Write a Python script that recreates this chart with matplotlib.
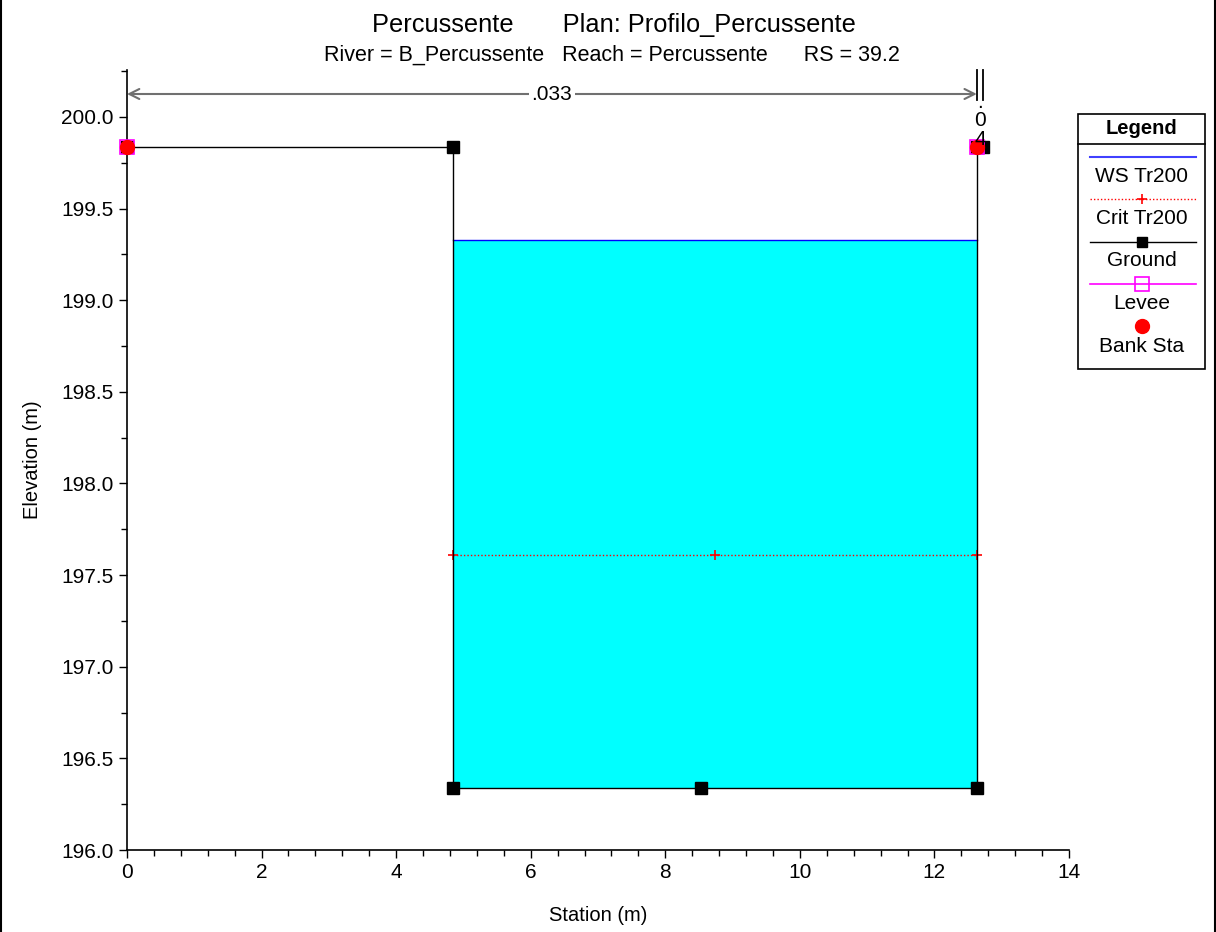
import matplotlib
matplotlib.use("Agg")
import matplotlib.pyplot as plt
from matplotlib.lines import Line2D
from matplotlib.ticker import MultipleLocator, FormatStrFormatter

plt.rcParams['font.family'] = ['Liberation Sans', 'DejaVu Sans']

# ---- data ----
ground_x = [0.0, 4.85, 4.85, 8.53, 12.63, 12.63, 12.72]
ground_y = [199.835, 199.835, 196.34, 196.34, 196.34, 199.835, 199.835]
ws_elev = 199.33
ws_x = [4.85, 12.63]
crit_elev = 197.61
crit_x = [4.85, 8.74, 12.63]
bank_x = [0.0, 12.63]
bank_y = [199.835, 199.835]
levee_x = [0.0, 12.63]
levee_y = [199.835, 199.835]
n_bounds = [0.0, 12.63, 12.72]
n_values = [".033", ".04"]
legend_labels = ["WS Tr200", "Crit Tr200", "Ground", "Levee", "Bank Sta"]

title = "Percussente       Plan: Profilo_Percussente"
subtitle = "River = B_Percussente   Reach = Percussente      RS = 39.2"

fig = plt.figure(figsize=(12.16, 9.32), dpi=100)
ax = fig.add_axes([127/1216, 1-850/932, (1069-127)/1216, (850-70)/932])
ax.set_xlim(0, 14)
ax.set_ylim(196.0, 200.256)

# water fill
ax.fill_between(ws_x, [ground_y[2], ground_y[4]], [ws_elev, ws_elev], color='#00ffff', lw=0, zorder=1)
ax.plot(ws_x, [ws_elev, ws_elev], color='#0000ff', lw=1.0, zorder=2)
# crit
ax.plot(crit_x, [crit_elev]*len(crit_x), color='red', lw=1.0, ls=(0, (1, 1.5)), marker='+',
        ms=7, mew=1.2, zorder=3, clip_on=False)
# ground
ax.plot(ground_x, ground_y, color='black', lw=1.0, marker='s', ms=8, zorder=4, clip_on=False)
# levee
ax.plot(levee_x, levee_y, ls='none', marker='s', ms=10.5, mfc='none', mec='magenta', mew=1.2,
        zorder=5, clip_on=False)
# bank
ax.plot(bank_x, bank_y, ls='none', marker='o', ms=10, color='red', zorder=6, clip_on=False)

# Manning n annotations
yarr = 1 - (94 - 70) / 780
trans = ax.get_xaxis_transform()
for i, nv in enumerate(n_values):
    x0, x1 = n_bounds[i], n_bounds[i + 1]
    if x1 - x0 > 1:
        ax.annotate('', xy=(x0, yarr), xytext=(x1, yarr), xycoords=trans, textcoords=trans,
                    arrowprops=dict(arrowstyle='<->', color='#707070', lw=1.5,
                                    mutation_scale=18, shrinkA=0, shrinkB=0),
                    annotation_clip=False)
        ax.text((x0 + x1) / 2, yarr, nv, transform=trans, ha='center', va='center',
                fontsize=15, bbox=dict(facecolor='white', edgecolor='none', pad=2), zorder=7)
    else:
        ax.text((x0 + x1) / 2, yarr + 0.001, "\n".join(list(nv)), transform=trans, ha='center',
                va='top', fontsize=15, linespacing=0.95, zorder=7)
for xb in n_bounds[1:]:
    ax.plot([xb, xb], [1.0, 1 - (100 - 70) / 780], transform=trans, color='black', lw=1.3,
            clip_on=False)

# axes styling
for s in ['top', 'right']:
    ax.spines[s].set_visible(False)
ax.spines['left'].set_linewidth(1.2)
ax.spines['bottom'].set_linewidth(1.2)
ax.xaxis.set_major_locator(MultipleLocator(2))
ax.xaxis.set_minor_locator(MultipleLocator(0.4))
ax.yaxis.set_major_locator(MultipleLocator(0.5))
ax.yaxis.set_minor_locator(MultipleLocator(0.25))
ax.yaxis.set_major_formatter(FormatStrFormatter('%.1f'))
ax.tick_params(axis='both', which='major', length=6, width=1, labelsize=15, direction='out')
ax.tick_params(axis='both', which='minor', length=4, width=1, direction='out')
ax.set_xlabel('Station (m)', fontsize=14.5, labelpad=17)
ax.set_ylabel('Elevation (m)', fontsize=14.5, labelpad=14)

fig.text(0.505, 1 - 25/932, title, ha='center', va='center', fontsize=18.3)
fig.text(0.503, 1 - 55/932, subtitle, ha='center', va='center', fontsize=15.5)

# figure border
W, H = 1216, 932
def fl(xs, ys, **kw):
    fig.add_artist(Line2D([x / W for x in xs], [1 - y / H for y in ys], **kw))
fl([1, 1], [0, 932], color='black', lw=1.5)
fl([1214.5, 1214.5], [0, 932], color='black', lw=1.5)

# custom legend
lx0, lx1, ly0, ly1 = 1078, 1205, 114, 369
fig.add_artist(plt.Rectangle((lx0 / W, 1 - ly1 / H), (lx1 - lx0) / W, (ly1 - ly0) / H,
                             transform=fig.transFigure, fill=False, ec='black', lw=1.2))
fl([lx0, lx1], [144, 144], color='black', lw=1.2)
fig.text((lx0 + lx1) / 2 / W, 1 - 128 / H, 'Legend', ha='center', va='center',
         fontsize=14.5, fontweight='bold')
cx = (lx0 + lx1) / 2
sx = [1090, 1196]
fl(sx, [157, 157], color='#4040ff', lw=1.5)
fl(sx, [199, 199], color='red', lw=1.0, ls=(0, (1, 1.5)))
fl([cx], [199], color='red', marker='+', ms=7, mew=1.2, ls='none')
fl(sx, [242, 242], color='black', lw=1.0)
fl([cx], [242], color='black', marker='s', ms=7, ls='none')
fl(sx, [284, 284], color='magenta', lw=1.2)
fl([cx], [284], marker='s', ms=10, mfc='none', mec='magenta', mew=1.2, ls='none')
fl([cx], [326], marker='o', ms=10, color='red', ls='none')
for lab, yy in zip(legend_labels, [177, 219, 261, 304, 346]):
    fig.text(cx / W, 1 - yy / H, lab, ha='center', va='center', fontsize=15)

fig.savefig('out.png', dpi=100)
